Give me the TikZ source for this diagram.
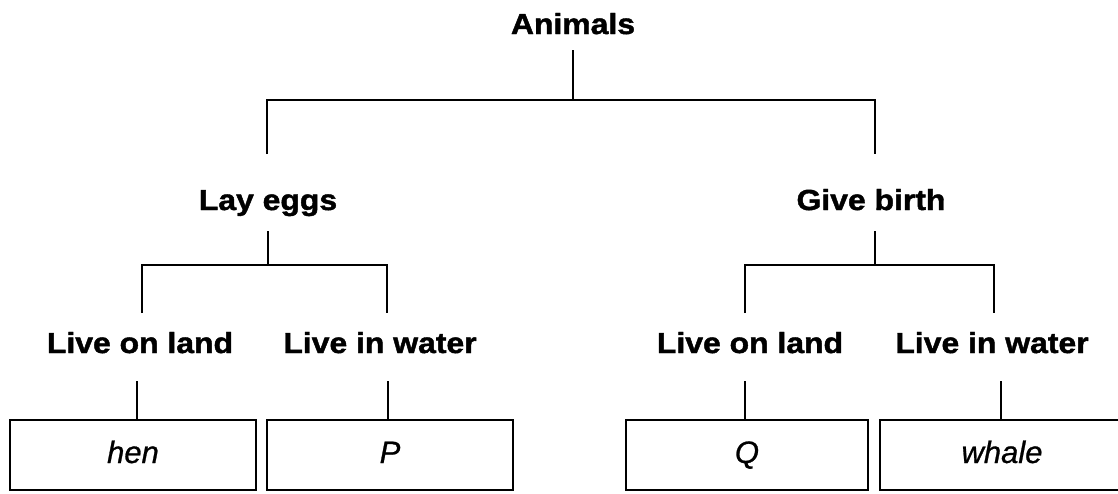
\documentclass[tikz,border=0pt]{standalone}
\usepackage{fontspec}
\setmainfont{Liberation Sans}
\newfontfamily\lblfont{Liberation Sans}[FakeStretch=1.1,FakeBold=1.5]
\newfontfamily\leaffont{Liberation Sans}[FakeBold=0.8]
\usetikzlibrary{calc}
\begin{document}
\begin{tikzpicture}[x=1pt,y=-1pt,
  lbl/.style={inner sep=0pt,anchor=base,font=\lblfont\bfseries\fontsize{29}{35}\selectfont},
  leaf/.style={draw,line width=2.4pt,minimum width=246pt,minimum height=70pt,inner sep=0pt,
    text height=22pt,text depth=6pt,
    font=\leaffont\itshape\fontsize{31}{37}\selectfont},
  conn/.style={line width=2.2pt}]
\useasboundingbox (0,0) rectangle (1118,493);
\clip (0,0) rectangle (1118,493);
\fill[white] (0,0) rectangle (1118,493);
% labels
\node[lbl] (animals) at (573,34) {Animals};
\node[lbl] (lay) at (268,210) {Lay eggs};
\node[lbl] (give) at (871,210) {Give birth};
\node[lbl] (ll1) at (140,353) {Live on land};
\node[lbl] (lw1) at (380,353) {Live in water};
\node[lbl] (ll2) at (750,353) {Live on land};
\node[lbl] (lw2) at (992,353) {Live in water};
% leaves
\node[leaf] (hen) at (133,455) {hen};
\node[leaf] (p) at (390,455) {P};
\node[leaf,minimum width=242pt] (q) at (747,455) {Q};
\node[leaf,minimum width=244pt] (whale) at (1002,455) {whale};
% junctions
\coordinate (j1) at ($(animals.base)+(0,66)$);
\coordinate (j2) at ($(lay.base)+(0,55)$);
\coordinate (j3) at ($(give.base)+(4,55)$);
\coordinate (s1) at ($(ll1.base)+(-3,28)$);
\coordinate (s2) at ($(lw1.base)+(8,28)$);
\coordinate (s3) at ($(ll2.base)+(-5,28)$);
\coordinate (s4) at ($(lw2.base)+(9,28)$);
% connectors
\draw[conn] ($(animals.base)+(0,16)$) -- (j1);
\draw[conn] ($(lay.base)+(-1,-56)$) |- (j1) -| ($(give.base)+(4,-56)$);
\draw[conn] ($(lay.base)+(0,21)$) -- (j2);
\draw[conn] ($(give.base)+(4,21)$) -- (j3);
\draw[conn] ($(ll1.base)+(2,-40)$) |- (j2) -| ($(lw1.base)+(7,-40)$);
\draw[conn] ($(ll2.base)+(-5,-40)$) |- (j3) -| ($(lw2.base)+(2,-40)$);
\draw[conn] (s1) -- (s1 |- hen.north);
\draw[conn] (s2) -- (s2 |- p.north);
\draw[conn] (s3) -- (s3 |- q.north);
\draw[conn] (s4) -- (s4 |- whale.north);
\end{tikzpicture}
\end{document}
